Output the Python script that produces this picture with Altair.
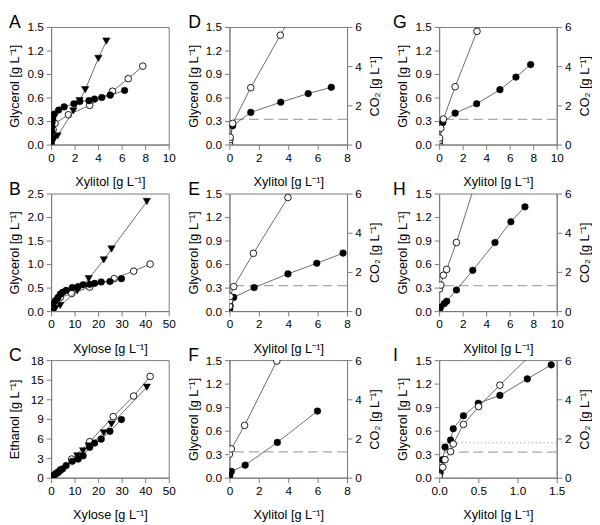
import altair as alt
import pandas as pd

FONT = "Liberation Sans"
AXIS_GRAY = "#7a7a7a"
LINE_GRAY = "#444444"
REF_GRAY = "#a8a8a8"

XYLITOL = "Xylitol [g L⁻¹]"
XYLOSE = "Xylose [g L⁻¹]"
GLYCEROL = "Glycerol [g L⁻¹]"
ETHANOL = "Ethanol [g L⁻¹]"
CO2 = "CO₂ [g L⁻¹]"

# ---------------- Panel A (glycerol vs xylitol) ----------------
A_fill_x = [0.0, 0.04, 0.05, 0.06, 0.08, 0.14, 0.28, 0.64, 1.11, 1.94, 2.44, 3.22, 3.69, 4.31, 5.03, 6.25]
A_fill_y = [0.00, 0.10, 0.17, 0.23, 0.28, 0.33, 0.39, 0.44, 0.48, 0.52, 0.55, 0.56, 0.58, 0.60, 0.63, 0.69]
A_open_x = [0.0, 0.05, 0.17, 0.33, 1.47, 3.28, 5.22, 6.56, 7.80]
A_open_y = [0.01, 0.06, 0.19, 0.27, 0.38, 0.50, 0.68, 0.84, 1.00]
A_tri_x = [0.0, 0.05, 0.30, 0.55, 1.89, 2.42, 2.90, 4.02, 4.70]
A_tri_y = [0.0, 0.03, 0.08, 0.11, 0.43, 0.56, 0.70, 1.10, 1.32]

# ---------------- Panel B (glycerol vs xylose) ----------------
B_fill_x = [0.0, 0.8, 1.8, 2.9, 3.9, 4.9, 6.4, 9.0, 11.5, 13.6, 16.4, 18.5, 21.3, 25.0, 29.9]
B_fill_y = [0.0, 0.15, 0.22, 0.29, 0.36, 0.40, 0.44, 0.50, 0.52, 0.56, 0.57, 0.59, 0.62, 0.63, 0.69]
B_open_x = [0.0, 1.0, 2.2, 3.9, 8.75, 16.4, 26.8, 35.1, 42.1]
B_open_y = [0.01, 0.12, 0.19, 0.29, 0.375, 0.51, 0.69, 0.85, 1.0]
B_tri_x = [0.0, 1.8, 3.9, 11.1, 16.0, 22.4, 25.7, 40.7]
B_tri_y = [0.0, 0.05, 0.12, 0.43, 0.69, 1.09, 1.32, 2.33]

# ---------------- Panel C (ethanol vs xylose) ----------------
C_fill_x = [0.0, 0.8, 1.8, 2.9, 3.9, 4.9, 6.4, 9.0, 11.5, 13.6, 16.4, 18.5, 21.3, 25.0, 29.9]
C_fill_y = [0.0, 0.2, 0.5, 0.8, 1.1, 1.35, 1.85, 2.5, 2.85, 3.35, 4.65, 5.3, 5.9, 7.1, 8.9]
C_open_x = [0.0, 1.0, 2.2, 3.9, 8.75, 16.4, 26.4, 35.1, 42.1]
C_open_y = [0.0, 0.35, 0.7, 1.2, 2.85, 5.5, 9.35, 12.5, 15.5]
C_tri_x = [0.0, 1.8, 3.9, 11.1, 13.6, 16.0, 22.4, 25.7, 40.7]
C_tri_y = [0.0, 0.35, 0.85, 3.35, 4.1, 4.85, 6.85, 8.2, 13.85]

# ---------------- Panels D-I (glycerol left, CO2 right, vs xylitol) ----------------
D_gly_x = [0.0, 0.22, 1.45, 3.49, 5.36, 6.93]
D_gly_y = [0.01, 0.24, 0.41, 0.54, 0.65, 0.73]
D_co2_x = [0.0, 0.03, 0.05, 0.22, 1.45, 3.46, 5.36]
D_co2_y = [0.08, 0.25, 0.37, 1.08, 2.90, 5.58, 8.10]
D_ref = 0.32

E_gly_x = [0.0, 0.02, 0.04, 0.29, 1.68, 3.98, 5.94, 7.73]
E_gly_y = [0.01, 0.04, 0.07, 0.175, 0.30, 0.475, 0.61, 0.74]
E_co2_x = [0.0, 0.02, 0.04, 0.29, 1.63, 3.98]
E_co2_y = [0.25, 0.53, 0.75, 1.25, 2.95, 5.80]
E_ref = 0.325

F_gly_x = [0.0, 0.02, 0.13, 1.07, 3.26, 5.99]
F_gly_y = [0.01, 0.03, 0.08, 0.16, 0.45, 0.85]
F_co2_x = [0.0, 0.13, 1.03, 3.22]
F_co2_y = [1.20, 1.47, 2.67, 5.95]
F_ref = 0.33

G_gly_x = [0.0, 0.31, 1.36, 3.19, 5.17, 6.53, 7.78]
G_gly_y = [0.01, 0.28, 0.40, 0.52, 0.70, 0.86, 1.02]
G_co2_x = [0.0, 0.02, 0.04, 0.14, 0.36, 1.36, 3.22]
G_co2_y = [0.08, 0.20, 0.33, 0.83, 1.30, 2.95, 5.78]
G_ref = 0.32

H_gly_x = [0.0, 0.05, 0.11, 0.44, 0.64, 1.47, 2.86, 4.75, 6.10, 7.30]
H_gly_y = [0.01, 0.03, 0.05, 0.096, 0.125, 0.27, 0.52, 0.875, 1.14, 1.33]
H_co2_x = [0.03, 0.14, 0.36, 0.64, 1.47, 4.75]
H_co2_y = [1.13, 1.33, 1.83, 2.13, 3.50, 9.70]
H_ref = 0.325

I_gly_x = [0.0, 0.0125, 0.046, 0.075, 0.146, 0.18, 0.31, 0.50, 0.775, 1.125, 1.43]
I_gly_y = [0.01, 0.0625, 0.23, 0.39, 0.48, 0.625, 0.79, 0.95, 1.05, 1.26, 1.44]
I_co2_x = [0.0, 0.046, 0.075, 0.146, 0.18, 0.31, 0.504, 0.775, 1.43]
I_co2_y = [0.08, 0.53, 0.92, 1.33, 1.72, 2.72, 3.63, 4.72, 7.30]
I_ref = 0.325
I_dot = 0.445

X_TICKS_10 = [0, 2, 4, 6, 8, 10]
X_TICKS_8 = [0, 2, 4, 6, 8]
X_TICKS_50 = [0, 10, 20, 30, 40, 50]
X_TICKS_15 = [0.0, 0.5, 1.0, 1.5]
Y_TICKS_15 = [0.0, 0.3, 0.6, 0.9, 1.2, 1.5]
Y_TICKS_25 = [0.0, 0.5, 1.0, 1.5, 2.0, 2.5]
Y_TICKS_18 = [0, 3, 6, 9, 12, 15, 18]
CO2_TICKS = [0, 2, 4, 6]

W = 120
H = 120


def frame(x, y):
    return pd.DataFrame({"x": x, "y": y})


def x_enc(dmax, ticks, fmt, title):
    return alt.X("x:Q", scale=alt.Scale(domain=[0, dmax], nice=False, zero=False),
                 axis=alt.Axis(values=ticks, format=fmt, title=title, titleY=32,
                               titleFontWeight="normal"))


def y_enc(dmax, ticks, fmt, title):
    return alt.Y("y:Q", scale=alt.Scale(domain=[0, dmax], nice=False, zero=False),
                 axis=alt.Axis(orient="left", values=ticks, format=fmt, title=title, titleX=-30,
                               titleFontWeight="normal"))


def co2_enc():
    return alt.Y("y:Q", scale=alt.Scale(domain=[0, 6], nice=False, zero=False),
                 axis=alt.Axis(orient="right", values=CO2_TICKS, format="d", title=CO2,
                               titleAngle=270, titleBaseline="bottom", titleX=35,
                               titleFontWeight="normal"))


def series(x, y, X, Y, style):
    data = frame(x, y)
    line = alt.Chart(data).mark_line(color=LINE_GRAY, strokeWidth=0.8, clip=True).encode(x=X, y=Y)
    if style == "filled":
        pts = alt.Chart(data).mark_point(shape="circle", filled=True, fill="black", stroke="black",
                                         strokeWidth=0.5, size=46, opacity=1, clip=True)
    elif style == "open":
        pts = alt.Chart(data).mark_point(shape="circle", filled=True, fill="white", stroke="black",
                                         strokeWidth=0.9, size=46, opacity=1, clip=True)
    else:
        pts = alt.Chart(data).mark_point(shape="triangle-down", filled=True, fill="black", stroke="black",
                                         strokeWidth=0.5, size=56, opacity=1, clip=True)
    return [line, pts.encode(x=X, y=Y)]


def letter(ch, dx):
    return alt.Chart(pd.DataFrame({"t": [ch]})).mark_text(
        font=FONT, fontSize=18, align="left", baseline="alphabetic", color="black"
    ).encode(text="t:N", x=alt.value(dx), y=alt.value(1))


def ref_line(val, Y, dash, width=1.3):
    return alt.Chart(pd.DataFrame({"y": [val]})).mark_rule(
        color=REF_GRAY, strokeWidth=width, strokeDash=dash
    ).encode(y=Y)


def single_panel(ch, dx, X, Y, parts):
    layers = [letter(ch, dx)]
    for (x, y, style) in parts:
        layers += series(x, y, X, Y, style)
    return alt.layer(*layers).properties(width=W, height=H)


def dual_panel(ch, dx, X, gx, gy, cx, cy, ref, dot=None):
    Y = y_enc(1.5, Y_TICKS_15, ".1f", GLYCEROL)
    left_layers = [ref_line(ref, Y, [10, 5])]
    if dot is not None:
        left_layers.append(ref_line(dot, Y, [1.5, 2.5], 1.0))
    left_layers.append(letter(ch, dx))
    left_layers += series(gx, gy, X, Y, "filled")
    left = alt.layer(*left_layers)
    right = alt.layer(*series(cx, cy, X, co2_enc(), "open"))
    return alt.layer(left, right).resolve_scale(y="independent").properties(width=W, height=H)


XA = x_enc(10, X_TICKS_10, "d", XYLITOL)
YA = y_enc(1.5, Y_TICKS_15, ".1f", GLYCEROL)
panel_A = single_panel("A", -43, XA, YA, [
    (A_open_x, A_open_y, "open"),
    (A_tri_x, A_tri_y, "tri"),
    (A_fill_x, A_fill_y, "filled"),
])

XB = x_enc(50, X_TICKS_50, "d", XYLOSE)
YB = y_enc(2.5, Y_TICKS_25, ".1f", GLYCEROL)
panel_B = single_panel("B", -43, XB, YB, [
    (B_open_x, B_open_y, "open"),
    (B_tri_x, B_tri_y, "tri"),
    (B_fill_x, B_fill_y, "filled"),
])

XC = x_enc(50, X_TICKS_50, "d", XYLOSE)
YC = y_enc(18, Y_TICKS_18, "d", ETHANOL)
panel_C = single_panel("C", -43, XC, YC, [
    (C_open_x, C_open_y, "open"),
    (C_tri_x, C_tri_y, "tri"),
    (C_fill_x, C_fill_y, "filled"),
])

panel_D = dual_panel("D", -42, x_enc(8, X_TICKS_8, "d", XYLITOL), D_gly_x, D_gly_y, D_co2_x, D_co2_y, D_ref)
panel_E = dual_panel("E", -42, x_enc(8, X_TICKS_8, "d", XYLITOL), E_gly_x, E_gly_y, E_co2_x, E_co2_y, E_ref)
panel_F = dual_panel("F", -42, x_enc(8, X_TICKS_8, "d", XYLITOL), F_gly_x, F_gly_y, F_co2_x, F_co2_y, F_ref)
panel_G = dual_panel("G", -47, x_enc(10, X_TICKS_10, "d", XYLITOL), G_gly_x, G_gly_y, G_co2_x, G_co2_y, G_ref)
panel_H = dual_panel("H", -47, x_enc(10, X_TICKS_10, "d", XYLITOL), H_gly_x, H_gly_y, H_co2_x, H_co2_y, H_ref)
panel_I = dual_panel("I", -47, x_enc(1.5, X_TICKS_15, ".1f", XYLITOL), I_gly_x, I_gly_y, I_co2_x, I_co2_y, I_ref, I_dot)

col1 = alt.VConcatChart(vconcat=[panel_A, panel_B, panel_C], spacing=50, bounds="flush")
col2 = alt.VConcatChart(vconcat=[panel_D, panel_E, panel_F], spacing=50, bounds="flush")
col3 = alt.VConcatChart(vconcat=[panel_G, panel_H, panel_I], spacing=50, bounds="flush")

chart = alt.HConcatChart(hconcat=[col1, col2, col3], spacing=10).properties(
    padding=0, background="white"
).configure_axis(
    labelFont=FONT, titleFont=FONT, labelFontSize=12, titleFontSize=13,
    titleFontWeight="normal", labelColor="black", titleColor="black",
    domainColor=AXIS_GRAY, tickColor=AXIS_GRAY, tickSize=5, labelPadding=3,
    grid=False, labelFlush=False, labelOverlap=False, domainWidth=1, tickWidth=1,
).configure_view(
    stroke=AXIS_GRAY, strokeWidth=1
)

chart.save("out.html", embed_options={"renderer": "svg", "actions": False})
